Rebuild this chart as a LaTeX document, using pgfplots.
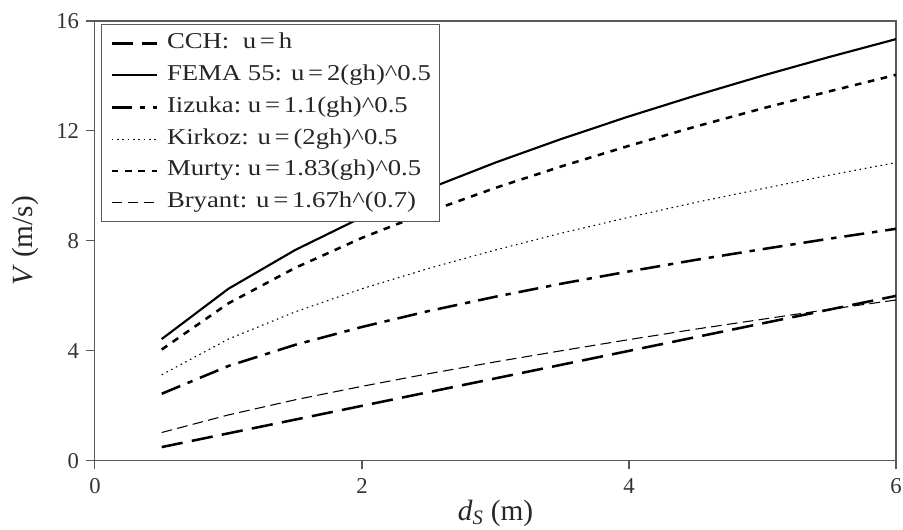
\documentclass[border=0pt]{standalone}
\usepackage{fontspec}
\setmainfont{Liberation Serif}
\newfontfamily\legfont[FakeStretch=1.18]{Liberation Serif}
\usepackage{pgfplots}
\pgfplotsset{compat=1.18}
\usetikzlibrary{calc}

\pgfplotstableread{
h    CCH   FEMA   Iizuka Kirkoz Murty  Bryant
0.5  0.50  4.43   2.44   3.13   4.05   1.03
1.0  1.00  6.26   3.45   4.43   5.73   1.67
1.5  1.50  7.67   4.22   5.42   7.02   2.22
2.0  2.00  8.86   4.87   6.26   8.11   2.71
2.5  2.50  9.90   5.45   7.00   9.06   3.17
3.0  3.00  10.85  5.97   7.67   9.93   3.60
3.5  3.50  11.72  6.45   8.29   10.72  4.01
4.0  4.00  12.53  6.89   8.86   11.46  4.41
4.5  4.50  13.29  7.31   9.40   12.16  4.79
5.0  5.00  14.01  7.70   9.90   12.82  5.15
5.5  5.50  14.69  8.08   10.39  13.44  5.51
6.0  6.00  15.34  8.44   10.85  14.04  5.85
}\vel

\begin{document}
\begin{tikzpicture}
\begin{axis}[
  scale only axis,
  width=601pt, height=330pt,
  xmin=0, xmax=6, ymin=0, ymax=16,
  xtick={0,2,4,6}, ytick={0,4,8,12,16},
  tick align=outside,
  major tick length=6.5pt,
  tick style={gray!70!black, line width=0.8pt},
  axis line style={gray!70!black, line width=0.8pt},
  xtick pos=bottom, ytick pos=left,
  /pgf/number format/assume math mode=true,
  tick label style={font=\fontsize{17}{20}\selectfont, text=black!80},
  xticklabel style={yshift=-3pt},
  yticklabel style={xshift=-2pt},
  xlabel={\textit{d}\textsubscript{\textit{S}} (m)},
  ylabel={\textit{V} (m/s)},
  label style={font=\fontsize{22}{26}\selectfont, text=black!85},
  xlabel style={at={(axis description cs:0.5,-0.1364)}, anchor=base},
  ylabel style={at={(axis description cs:-0.0874,0.5)}, anchor=center},
  legend cell align=left,
  legend style={at={(rel axis cs:0,1)}, anchor=north west,
    xshift=4.5pt, yshift=-2.3pt,
    draw=gray!70!black, line width=0.8pt,
    font=\legfont\fontsize{17}{20}\selectfont, text=black!85,
    nodes={text height=12pt, text depth=4.5pt, inner ysep=1.8pt, inner xsep=6.5pt},
    row sep=3.8pt, inner xsep=0pt, inner ysep=4.2pt},
  legend image code/.code={\path (0pt,0pt); \draw[#1] (6.75pt,0pt) -- (40.75pt,0pt);},
]
\addplot[black, line width=1.9pt, dash pattern=on 16pt off 7pt] table[x=h, y=CCH] {\vel};
\addlegendentry{CCH:\ \ u\,=\,h}
\addplot[black, line width=1.6pt] table[x=h, y=FEMA] {\vel};
\addlegendentry{FEMA 55: u\,=\,2(gh)\^{}0.5}
\addplot[black, line width=1.9pt, dash pattern=on 15pt off 6pt on 4pt off 6pt] table[x=h, y=Iizuka] {\vel};
\addlegendentry{Iizuka:\ u\,=\,1.1(gh)\^{}0.5}
\addplot[black, line width=0.8pt, dash pattern=on 1.2pt off 2.8pt] table[x=h, y=Kirkoz] {\vel};
\addlegendentry{Kirkoz: u\,=\,(2gh)\^{}0.5}
\addplot[black, line width=1.9pt, dash pattern=on 5pt off 5pt] table[x=h, y=Murty] {\vel};
\addlegendentry{Murty:\ u\,=\,1.83(gh)\^{}0.5}
\addplot[black, line width=0.8pt, dash pattern=on 8pt off 4pt] table[x=h, y=Bryant] {\vel};
\addlegendentry{Bryant: u\,=\,1.67h\^{}(0.7)}
\coordinate (sw) at (rel axis cs:0,0);
\coordinate (ne) at (rel axis cs:1,1);
\end{axis}
\pgfresetboundingbox
\useasboundingbox ($(sw)+(-71.25pt,-51.75pt)$) rectangle ($(ne)+(5.25pt,15.75pt)$);
\end{tikzpicture}
\end{document}
